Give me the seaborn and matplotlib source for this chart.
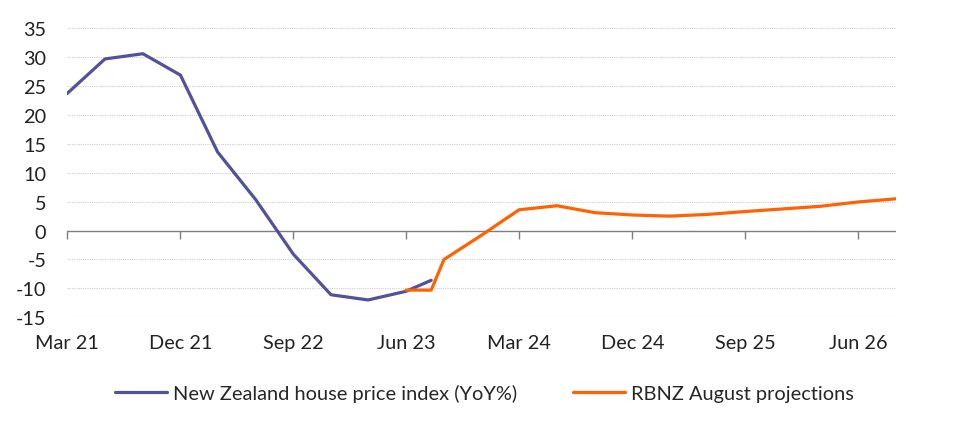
import numpy as np
import pandas as pd
import matplotlib
matplotlib.use("Agg")
import matplotlib.pyplot as plt
import matplotlib.dates as mdates
import seaborn as sns

# ---- data ----
hpi_dates = ["2021-03-01", "2021-06-01", "2021-09-01", "2021-12-01", "2022-03-01",
             "2022-06-01", "2022-09-01", "2022-12-01", "2023-03-01", "2023-06-01",
             "2023-08-01"]
hpi_values = [23.7, 29.7, 30.6, 26.9, 13.6, 5.4, -4.1, -11.1, -12.0, -10.5, -8.6]

proj_dates = ["2023-06-01", "2023-08-01", "2023-09-01", "2023-12-01", "2024-03-01",
              "2024-06-01", "2024-09-01", "2024-12-01", "2025-03-01", "2025-06-01",
              "2025-09-01", "2025-12-01", "2026-03-01", "2026-06-01", "2026-09-01"]
proj_values = [-10.3, -10.3, -5.0, -0.8, 3.6, 4.3, 3.1, 2.7, 2.5, 2.8, 3.3, 3.75,
               4.2, 4.95, 5.5]

series_names = ["New Zealand house price index (YoY%)", "RBNZ August projections"]
tick_dates = ["2021-03-01", "2021-12-01", "2022-09-01", "2023-06-01", "2024-03-01",
              "2024-12-01", "2025-09-01", "2026-06-01"]
tick_labels = ["Mar 21", "Dec 21", "Sep 22", "Jun 23", "Mar 24", "Dec 24", "Sep 25", "Jun 26"]
y_ticks = [-15, -10, -5, 0, 5, 10, 15, 20, 25, 30, 35]

df = pd.concat([
    pd.DataFrame({"date": pd.to_datetime(hpi_dates), "value": hpi_values, "series": series_names[0]}),
    pd.DataFrame({"date": pd.to_datetime(proj_dates), "value": proj_values, "series": series_names[1]}),
])

sns.set_style("white")
plt.rcParams["font.family"] = ["Lato", "DejaVu Sans"]

fig = plt.figure(figsize=(9.55, 4.31), dpi=100)
ax = fig.add_axes([0.0702, 0.2615, 0.868, 0.6705])

palette = {series_names[0]: "#525199", series_names[1]: "#FF6200"}
sns.lineplot(data=df, x="date", y="value", hue="series", palette=palette,
             linewidth=2.3, ax=ax, legend=True)

ax.set_xlim(pd.Timestamp("2021-03-01"), pd.Timestamp("2026-09-01"))
ax.set_ylim(-15, 35)
ax.set_yticks(y_ticks)
ax.set_yticklabels([str(v) for v in y_ticks])
ax.set_xticks(pd.to_datetime(tick_dates))
ax.set_xticklabels(tick_labels)
ax.set_xlabel("")
ax.set_ylabel("")

for v in y_ticks:
    if v != 0:
        ax.axhline(v, color="#cfcfcf", linewidth=0.8, linestyle=(0, (1, 1)), zorder=0)
ax.axhline(0, color="#7f7f7f", linewidth=1.0, zorder=1)

for s in ax.spines.values():
    s.set_visible(False)

ax.tick_params(axis="y", length=0, pad=15, labelsize=14.3, labelcolor="#222222")
ax.tick_params(axis="x", length=0, pad=12, labelsize=14.3, labelcolor="#222222")

sec = ax.secondary_xaxis(0.3)
sec.set_xticks(pd.to_datetime(tick_dates))
sec.set_xticklabels([""] * len(tick_dates))
sec.tick_params(axis="x", length=6, color="#7f7f7f", width=1.0)
sec.spines["bottom"].set_visible(False)

ax.legend_.remove()
handles, labels = ax.get_legend_handles_labels()
fig.legend(handles, labels, loc="center", bbox_to_anchor=(0.507, 0.086), ncol=2,
           frameon=False, fontsize=14.4, handlelength=2.6, columnspacing=2.8,
           handletextpad=0.3)

fig.savefig("out.png", dpi=100)
